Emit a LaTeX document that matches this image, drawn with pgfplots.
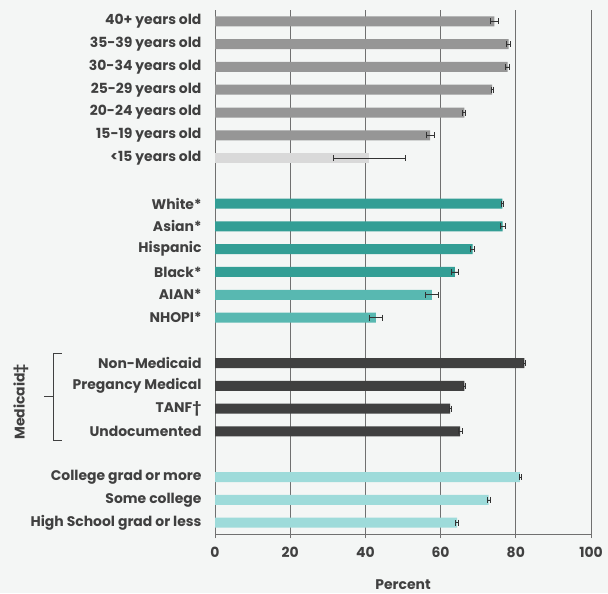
\documentclass[border=0pt]{standalone}
\usepackage{fontspec}
\setmainfont{Poppins}
\usepackage{pgfplots}
\pgfplotsset{compat=1.18}
\definecolor{bg}{HTML}{F4F6F5}
\definecolor{txt}{HTML}{404040}
\definecolor{agegray}{HTML}{969696}
\definecolor{agelight}{HTML}{D9D9D9}
\definecolor{tealdark}{HTML}{339E95}
\definecolor{teallight}{HTML}{58B8B1}
\definecolor{darkbar}{HTML}{404040}
\definecolor{cyanbar}{HTML}{9EDBDA}
\definecolor{gridc}{HTML}{707070}
\begin{document}
\begin{tikzpicture}
\fill[bg] (0,0) rectangle (608bp,593bp);
\begin{axis}[
  at={(215bp,59bp)}, anchor=south west,
  scale only axis, width=376bp, height=524bp,
  clip=false,
  xmin=0, xmax=100, ymin=-0.5, ymax=22.5,
  axis x line*=bottom, axis y line*=left,
  axis line style={gridc, line width=0.8pt},
  xtick={0,20,40,60,80,100},
  xmajorgrids, major grid style={gridc, line width=0.8pt},
  x tick style={gridc, line width=0.8pt}, major tick length=4bp,
  tick align=outside,
  ytick={0,1,2,4,5,6,7,9,10,11,12,13,14,16,17,18,19,20,21,22},
  yticklabels={High School grad or less, Some college, College grad or more,
    Undocumented, TANF†, Pregancy Medical, Non-Medicaid,
    NHOPI*, AIAN*, Black*, Hispanic, Asian*, White*,
    <15 years old, 15-19 years old, 20-24 years old, 25-29 years old, 30-34 years old, 35-39 years old, 40+ years old},
  y tick style={draw=none},
  minor ytick={-0.5,0.5,...,22.5},
  minor y tick style={gridc, line width=0.8pt},
  minor tick length=5bp,
  ticklabel style={font=\bfseries\fontsize{14}{16}\selectfont, text=txt},
  yticklabel style={xshift=-6bp},
  xticklabel style={yshift=-6bp},
  /pgf/number format/assume math mode=true,
  xlabel={Percent},
  xlabel style={font=\bfseries\fontsize{14}{16}\selectfont, text=txt, yshift=-15bp},
  xbar, bar width=10bp, bar shift=0pt,
  error bars/x dir=both, error bars/x explicit,
  error bars/error bar style={black!80, line width=0.6pt},
  error bars/error mark options={black!80, line width=0.6pt, mark size=3bp, rotate=90},
]
\addplot[fill=agegray, draw=none] table[x=v, y=p, x error=e] {
p v e
22 74.3 1.0
21 78.1 0.5
20 77.8 0.5
19 73.7 0.3
18 66.3 0.4
17 57.2 1.0
};
\addplot[fill=agelight, draw=none] table[x=v, y=p, x error=e] {
p v e
16 41.0 9.6
};
\addplot[fill=tealdark, draw=none] table[x=v, y=p, x error=e] {
p v e
14 76.4 0.3
13 76.5 0.6
12 68.5 0.5
11 63.8 1.0
};
\addplot[fill=teallight, draw=none] table[x=v, y=p, x error=e] {
p v e
10 57.7 1.7
9 42.8 1.8
};
\addplot[fill=darkbar, draw=none] table[x=v, y=p, x error=e] {
p v e
7 82.3 0.2
6 66.3 0.3
5 62.5 0.3
4 65.2 0.5
};
\addplot[fill=cyanbar, draw=none] table[x=v, y=p, x error=e] {
p v e
2 81.1 0.3
1 72.8 0.5
0 64.4 0.4
};
\draw[txt, line width=0.8pt] ([xshift=-153bp]axis cs:0,7.44) -- ([xshift=-162bp]axis cs:0,7.44)
  -- ([xshift=-162bp]axis cs:0,3.62) -- ([xshift=-153bp]axis cs:0,3.62);
\draw[txt, line width=0.8pt] ([xshift=-162bp]axis cs:0,5.53) -- ([xshift=-171bp]axis cs:0,5.53);
\node[rotate=90, font=\bfseries\fontsize{14}{16}\selectfont, text=txt] at ([xshift=-194bp]axis cs:0,5.3) {Medicaid‡};
\end{axis}
\end{tikzpicture}
\end{document}
